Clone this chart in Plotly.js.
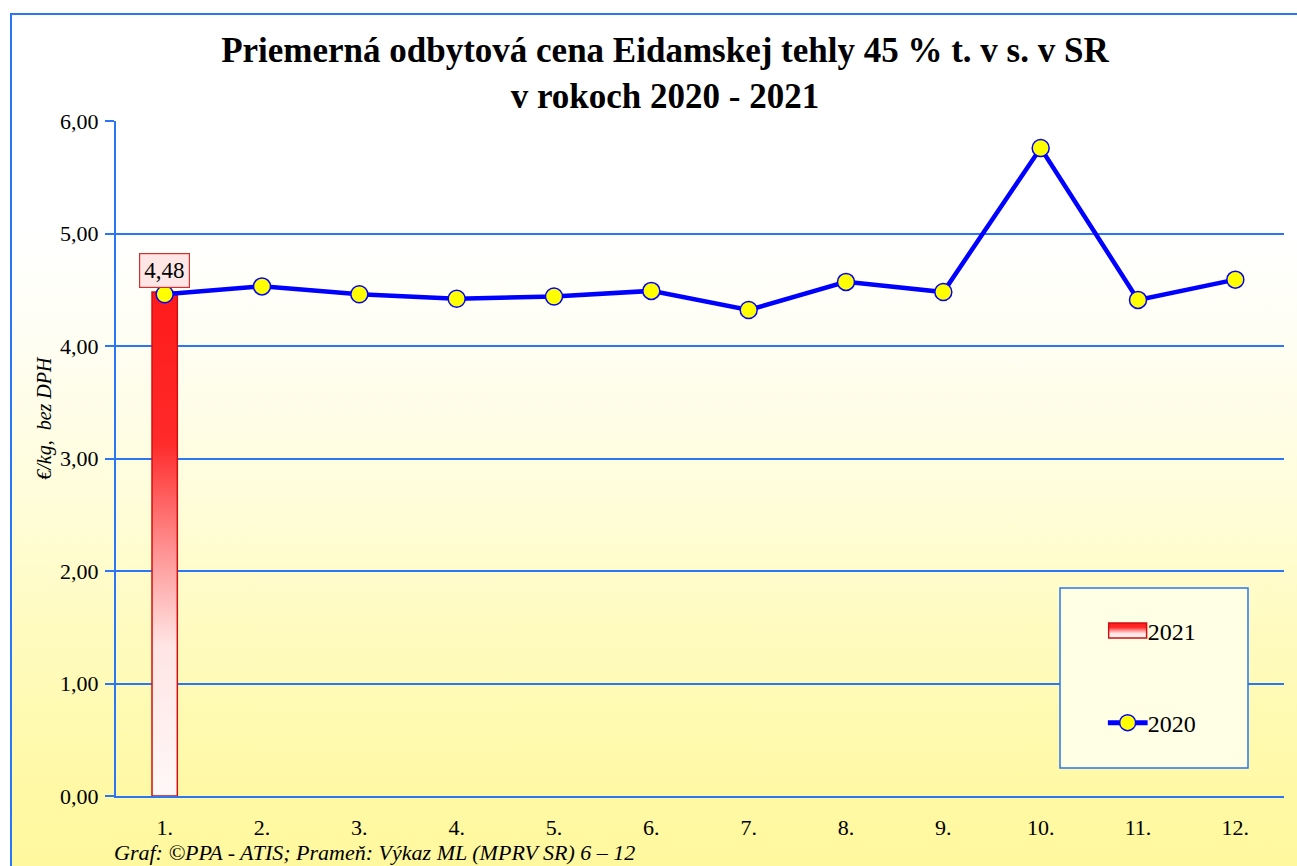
<!DOCTYPE html>
<html>
<head>
<meta charset="utf-8">
<script src="https://cdn.plot.ly/plotly-3.0.1.min.js"></script>
<style>
  html, body { margin: 0; padding: 0; background: #ffffff; overflow: hidden; }
  #frame {
    position: absolute; left: 10px; top: 13px; width: 1300px; height: 880px;
    border: 2px solid #2A76F6; box-sizing: border-box;
    background: linear-gradient(to bottom, #ffffff 0%, #ffffff 25%, #FFFEF2 38%, #FFFDDA 55%, #FFFBC0 70%, #FFF9A6 88%, #FFF89C 100%);
  }
  #chart { position: absolute; left: 0; top: 0; width: 1297px; height: 866px; }
</style>
</head>
<body>
<div id="frame"></div>
<div id="chart"></div>
<script>
// ---- data ----
const months = ['1.', '2.', '3.', '4.', '5.', '6.', '7.', '8.', '9.', '10.', '11.', '12.'];
const values2020 = [4.46, 4.53, 4.46, 4.42, 4.44, 4.49, 4.32, 4.57, 4.48, 5.76, 4.41, 4.59];
const months2021 = ['1.'];
const values2021 = [4.48];
const yTickVals = [0, 1, 2, 3, 4, 5, 6];
const titleText = '<b>Priemerná odbytová cena Eidamskej tehly 45 % t. v s. v SR<br>v rokoch 2020 - 2021</b>';
const yTitle = '<i>€/kg,  bez DPH</i>';
const footer = '<i>Graf: ©PPA - ATIS; Prameň: Výkaz ML (MPRV SR) 6 – 12</i>';

const BLUE = '#2A76F6';
const SERIF = 'Liberation Serif, Times New Roman, serif';

const traces = [
  {
    type: 'bar', name: '2021', x: months2021, y: values2021, width: 0.26,
    marker: { color: '#FF2020', line: { color: '#D01010', width: 1.5 } },
    legendgroup: 'a', hoverinfo: 'skip'
  },
  {
    type: 'scatter', mode: 'lines+markers', name: '2020', x: months, y: values2020,
    line: { color: '#0000FF', width: 4.5 },
    marker: { color: '#FFFF00', size: 17, line: { color: '#0000FF', width: 1.5 } },
    legendgroup: 'b', hoverinfo: 'skip'
  }
];

const annotations = values2021.map((v, i) => ({
  x: months.indexOf(months2021[i]), y: v, xref: 'x', yref: 'y',
  text: v.toFixed(2).replace('.', ','), showarrow: false,
  yanchor: 'bottom', yshift: 4,
  font: { family: SERIF, size: 23, color: '#000' },
  bgcolor: '#FFE6E6', bordercolor: '#D03030', borderwidth: 1.2, borderpad: 4
}));
annotations.push({
  text: yTitle, xref: 'paper', yref: 'paper', x: -0.061, y: 0.56,
  textangle: -90, showarrow: false, xanchor: 'center', yanchor: 'middle',
  font: { family: SERIF, size: 20, color: '#000' }
});
annotations.push({
  text: footer, xref: 'paper', yref: 'paper', x: -0.003, y: -0.062,
  showarrow: false, xanchor: 'left', yanchor: 'top',
  font: { family: SERIF, size: 22, color: '#000' }
});

const layout = {
  width: 1297, height: 866,
  margin: { l: 116, r: 13, t: 121, b: 70 },
  paper_bgcolor: 'rgba(0,0,0,0)', plot_bgcolor: 'rgba(0,0,0,0)',
  separators: ', ',
  showlegend: true,
  hovermode: false,
  title: {
    text: titleText, x: 0.470, xref: 'paper', xanchor: 'center',
    y: 1 - 62 / 866, yref: 'container', yanchor: 'top',
    font: { family: SERIF, size: 35, color: '#000' }
  },
  xaxis: {
    type: 'category', range: [-0.5, 11.5], categoryarray: months, categoryorder: 'array',
    showline: true, linecolor: BLUE, linewidth: 2, showgrid: false, ticks: '',
    ticklabelstandoff: 11,
    tickfont: { family: SERIF, size: 22, color: '#000' }, fixedrange: true
  },
  yaxis: {
    range: [0, 6], tickvals: yTickVals, tickformat: '.2f',
    showline: true, linecolor: BLUE, linewidth: 2,
    ticks: 'outside', ticklen: 9, tickcolor: BLUE, tickwidth: 2,
    showgrid: true, gridcolor: BLUE, gridwidth: 2, zeroline: false,
    ticklabelstandoff: 2,
    tickfont: { family: SERIF, size: 22, color: '#000' }, fixedrange: true
  },
  legend: {
    x: 0.849, y: 0.278, xanchor: 'left', yanchor: 'top',
    bgcolor: 'rgba(0,0,0,0)', borderwidth: 0,
    tracegroupgap: 58, traceorder: 'grouped',
    font: { family: SERIF, size: 24, color: '#000' }
  },
  shapes: [{
    type: 'rect', xref: 'paper', yref: 'paper', layer: 'above',
    x0: (1060 - 116) / 1168, x1: (1248 - 116) / 1168,
    y0: (796 - 768) / 675, y1: (796 - 588) / 675,
    fillcolor: '#FFFFE6', line: { color: BLUE, width: 1.5 }
  }],
  annotations: annotations
};

Plotly.newPlot('chart', traces, layout, { displayModeBar: false, staticPlot: true }).then(gd => {
  const svg = gd.querySelector('.main-svg');
  let defs = svg.querySelector('defs');
  const NS = 'http://www.w3.org/2000/svg';
  const grad = document.createElementNS(NS, 'linearGradient');
  grad.setAttribute('id', 'barGrad');
  grad.setAttribute('x1', '0'); grad.setAttribute('y1', '0');
  grad.setAttribute('x2', '0'); grad.setAttribute('y2', '1');
  [['0', '#FF1A1A'], ['0.3', '#FF2A2A'], ['0.5', '#FF8C8C'], ['0.7', '#FFE4E4'], ['1', '#FFF8F8']].forEach(([o, c]) => {
    const s = document.createElementNS(NS, 'stop');
    s.setAttribute('offset', o); s.setAttribute('stop-color', c);
    grad.appendChild(s);
  });
  defs.appendChild(grad);
  gd.querySelectorAll('.barlayer .point path').forEach(p => { p.style.fill = 'url(#barGrad)'; });
  gd.querySelectorAll('.legend .legendpoints path.legendundefined, .legend .legendbar path').forEach(p => {
    p.setAttribute('d', 'M19,7.5H-19V-7.5H19Z');
    p.style.fill = 'url(#barGrad)';
  });
  gd.querySelectorAll('.legend .legendlines path').forEach(p => {
    p.setAttribute('d', 'M0,0h40');
    p.style.strokeWidth = '5px';
  });
});
</script>
</body>
</html>
